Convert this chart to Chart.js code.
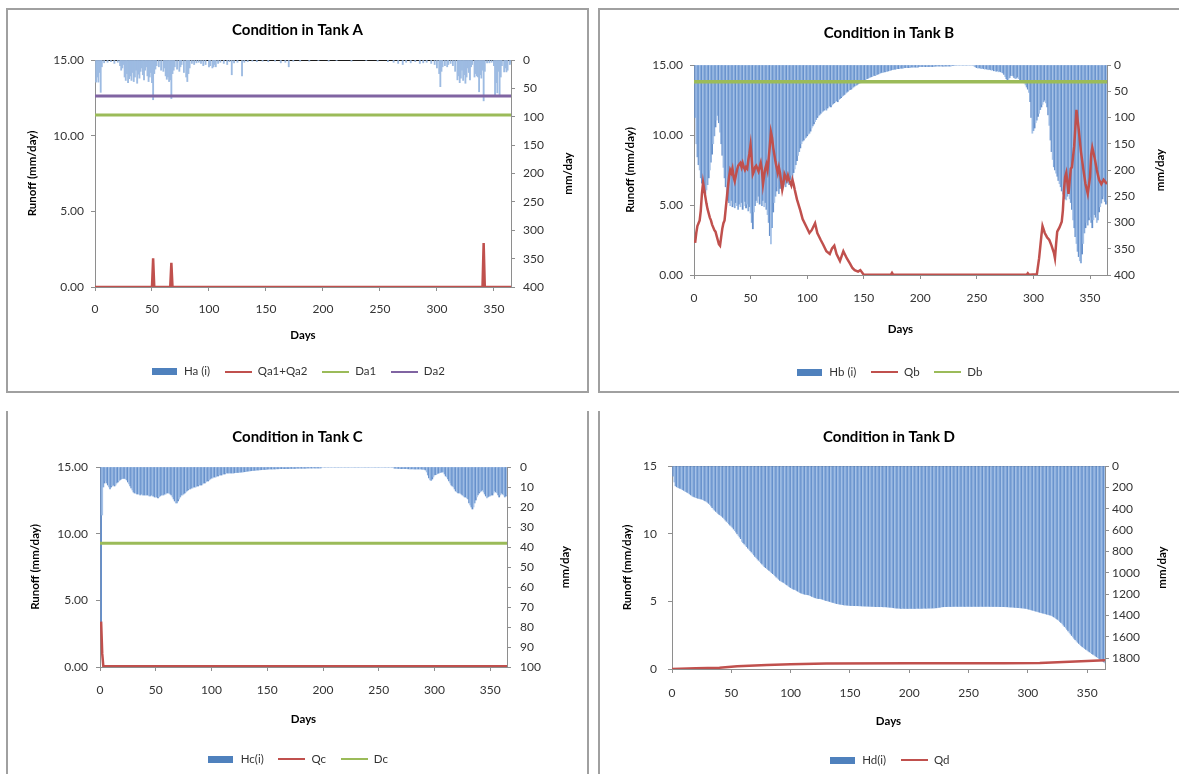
<!DOCTYPE html>
<html>
<head>
<meta charset="utf-8">
<script src="https://cdn.jsdelivr.net/npm/chart.js@4.4.1/dist/chart.umd.min.js"></script>
<style>
  html, body { margin: 0; padding: 0; background: #fff; width: 1179px; height: 774px; overflow: hidden; }
  .frame { position: absolute; box-sizing: border-box; border: 2px solid #a0a0a0; }
  canvas { position: absolute; }
</style>
</head>
<body>
<div class="frame" style="left:6px;top:8px;width:583px;height:385px"></div>
<div class="frame" style="left:598px;top:8px;width:600px;height:385px"></div>
<div class="frame" style="left:6px;top:411px;width:583px;height:400px;border-top:none"></div>
<div class="frame" style="left:598px;top:411px;width:600px;height:400px;border-top:none"></div>

<canvas id="tankA" width="579" height="381" style="left:8px;top:10px"></canvas>
<canvas id="tankB" width="578" height="381" style="left:600px;top:10px"></canvas>
<canvas id="tankC" width="579" height="364" style="left:8px;top:413px"></canvas>
<canvas id="tankD" width="578" height="364" style="left:600px;top:413px"></canvas>

<script>
// ── Data ──────────────────────────────────────────────────────────
// day index for the daily series
const days = Array.from({ length: 365 }, (_, i) => i + 1);

// Tank A: rainfall bars (mm/day, right axis) only on wet days
const haDays = [1, 2, 3, 4, 5, 6, 8, 11, 14, 17, 20, 22, 23, 24, 25, 26, 27, 28, 29, 30,
  31, 32, 33, 34, 35, 36, 37, 38, 39, 40, 41, 42, 43, 44, 45, 46, 47, 48, 49, 50,
  51, 52, 53, 54, 56, 58, 60, 61, 62, 63, 64, 65, 66, 67, 68, 69, 70, 72, 74, 75,
  76, 78, 80, 81, 82, 83, 85, 87, 89, 91, 93, 95, 97, 100, 101, 103, 104, 105, 106, 108,
  110, 113, 116, 118, 120, 122, 125, 129, 131, 134, 138, 142, 147, 152, 158, 163, 167, 170, 174, 180,
  188, 196, 205, 212, 225, 238, 248, 257, 262, 266, 270, 273, 277, 281, 285, 288, 291, 295, 298, 300,
  302, 303, 304, 305, 307, 309, 310, 312, 314, 316, 318, 319, 320, 321, 322, 323, 324, 325, 326, 327,
  328, 329, 330, 331, 333, 334, 335, 336, 337, 338, 339, 340, 341, 342, 344, 346, 348, 350, 351, 352,
  353, 354, 355, 356, 357, 359, 360, 361, 362, 364, 365];
const haVals = [39, 30, 39, 22, 57, 12, 5, 4, 3, 6, 4, 10, 18, 14, 8, 30, 36, 24, 40, 33,
  28, 36, 22, 38, 30, 18, 41, 25, 32, 20, 14, 26, 35, 18, 12, 28, 38, 30, 22, 40,
  70, 24, 16, 10, 12, 18, 20, 14, 28, 34, 30, 38, 35, 68, 24, 18, 12, 16, 20, 12,
  8, 22, 30, 38, 24, 14, 6, 8, 5, 4, 6, 10, 8, 12, 10, 14, 12, 8, 12, 6,
  4, 6, 8, 3, 26, 5, 4, 28, 4, 3, 2, 3, 2, 3, 2, 5, 4, 12, 2, 2,
  2, 1, 2, 1, 2, 1, 2, 3, 4, 6, 8, 4, 5, 3, 6, 5, 4, 6, 8, 14,
  24, 47, 20, 12, 10, 12, 8, 6, 10, 20, 35, 28, 40, 32, 18, 36, 26, 41, 30, 14,
  22, 35, 12, 8, 30, 24, 28, 30, 56, 26, 32, 18, 72, 20, 5, 5, 4, 10, 62, 40,
  58, 20, 62, 30, 10, 21, 14, 21, 18, 8, 6];
const qaDays = [0, 50, 51, 52, 66, 67, 68, 340, 341, 342, 365];
const qaVals = [0, 0, 1.9, 0, 0, 1.6, 0, 0, 2.9, 0, 0];
const da1Level = 11.37;
const da2Level = 12.62;

// Tank B
const hbVals = [
  100, 150, 175, 190, 200, 215, 225, 232, 240, 245,
  238, 228, 215, 200, 185, 170, 150, 135, 118, 105,
  96, 110, 128, 150, 172, 195, 215, 232, 248, 258,
  262, 268, 258, 270, 265, 272, 262, 268, 275, 265,
  270, 262, 275, 268, 260, 272, 265, 278, 270, 282,
  300, 312, 280, 268, 258, 262, 250, 265, 255, 268,
  258, 270, 262, 275, 285, 300, 325, 341, 310, 280,
  262, 250, 240, 232, 245, 235, 225, 238, 228, 220,
  232, 225, 215, 228, 218, 210, 220, 205, 198, 190,
  182, 172, 165, 158, 150, 145, 143, 140, 138, 135,
  132, 130, 126, 120, 116, 112, 108, 104, 100, 97,
  95, 92, 90, 88, 86, 84, 86, 82, 80, 78,
  80, 76, 74, 72, 70, 68, 70, 66, 64, 62,
  60, 58, 56, 54, 52, 50, 48, 47, 46, 44,
  42, 40, 39, 38, 36, 35, 34, 32, 30, 29,
  28, 27, 26, 25, 24, 23, 22, 21, 20, 20,
  19, 18, 17, 16, 15, 14, 14, 13, 13, 12,
  12, 11, 10, 10, 9, 9, 8, 8, 7, 7,
  7, 6, 6, 6, 6, 5, 5, 5, 5, 5,
  5, 4, 4, 4, 4, 4, 4, 4, 3, 3,
  3, 3, 3, 3, 3, 3, 3, 3, 3, 3,
  3, 3, 2, 2, 2, 2, 2, 2, 2, 2,
  2, 2, 2, 2, 2, 2, 2, 1, 1, 1,
  0, 0, 0, 0, 0, 0, 0, 0, 0, 0,
  0, 0, 0, 0, 0, 0, 0, 3, 4, 5,
  6, 5, 6, 7, 6, 7, 8, 7, 8, 9,
  8, 9, 10, 9, 11, 10, 12, 11, 13, 12,
  13, 14, 15, 18, 22, 26, 29, 27, 24, 20,
  19, 21, 24, 26, 25, 23, 26, 28, 29, 30,
  32, 34, 38, 42, 46, 52, 70, 100, 130, 125,
  120, 110, 105, 98, 92, 85, 80, 75, 70, 67,
  72, 80, 95, 115, 143, 165, 180, 194, 200, 206,
  212, 220, 226, 232, 240, 246, 250, 255, 257, 250,
  245, 255, 262, 275, 295, 310, 327, 340, 355, 365,
  373, 377, 360, 340, 320, 310, 300, 305, 295, 290,
  300, 310, 295, 285, 290, 300, 295, 280, 270, 263,
  255, 250, 260, 265, 258];
const qbDays = [1, 2, 3, 4, 5, 6, 7, 8, 9, 10, 11, 12, 13, 14, 15, 16, 17, 18, 19, 20,
  21, 22, 23, 24, 25, 26, 27, 28, 29, 30, 31, 32, 33, 34, 35, 36, 37, 38, 39, 40,
  41, 42, 43, 44, 45, 46, 47, 48, 49, 50, 51, 52, 53, 54, 55, 56, 57, 58, 59, 60,
  61, 62, 63, 64, 65, 66, 67, 68, 69, 70, 71, 72, 73, 74, 75, 76, 77, 78, 79, 80,
  81, 82, 83, 84, 85, 86, 87, 88, 89, 91, 94, 96, 99, 102, 104, 107, 109, 112, 114, 117,
  120, 122, 124, 126, 129, 132, 135, 138, 140, 142, 145, 147, 150, 174, 175, 176, 294, 295, 296, 303,
  305, 307, 308, 310, 312, 314, 316, 318, 319, 320, 321, 323, 325, 326, 327, 328, 329, 330, 331, 332,
  333, 334, 336, 338, 340, 342, 344, 346, 348, 350, 351, 352, 354, 356, 358, 360, 362, 364, 365];
const qbVals = [2.3, 3.0, 3.5, 3.7, 3.9, 4.6, 5.8, 6.6, 6.1, 5.6, 5.1, 4.7, 4.4, 4.1, 3.9, 3.6, 3.4, 3.2, 3.1, 2.8,
  2.5, 2.2, 2.1, 2.7, 3.3, 3.7, 3.9, 4.7, 5.5, 6.3, 7.0, 7.5, 7.3, 7.6, 7.0, 6.7, 7.1, 7.5, 7.8, 7.9,
  8.0, 7.7, 8.0, 7.7, 7.5, 7.7, 7.6, 8.2, 8.7, 9.3, 8.3, 7.2, 7.4, 7.7, 7.8, 7.6, 7.4, 7.7, 8.0, 7.5,
  6.5, 7.1, 7.6, 7.9, 7.5, 8.3, 9.2, 10.2, 9.8, 9.1, 8.6, 8.1, 7.7, 7.3, 7.7, 7.3, 6.7, 6.1, 6.5, 7.2,
  7.0, 6.8, 7.1, 6.8, 6.6, 6.4, 6.8, 6.5, 6.1, 5.4, 4.6, 4.0, 3.5, 3.0, 3.2, 3.7, 3.0, 2.5, 2.2, 1.7,
  1.5, 1.9, 2.1, 1.5, 1.0, 1.7, 1.2, 0.8, 0.5, 0.35, 0.24, 0.35, 0.02, 0.02, 0.15, 0.02, 0.02, 0.12, 0.02, 0.05,
  1.2, 2.8, 3.5, 3.0, 2.7, 2.5, 2.1, 1.6, 1.2, 2.2, 3.1, 3.4, 3.8, 4.6, 6.1, 7.0, 7.3, 6.6, 5.8, 6.7,
  7.6, 7.7, 9.2, 11.8, 10.4, 8.8, 7.6, 6.5, 5.8, 7.0, 8.6, 9.1, 8.4, 7.5, 6.8, 6.5, 6.8, 6.6, 6.5];
const dbLevel = 13.8;

// Tank C
const hcVals = [
  82, 24, 10, 8, 7, 8, 9, 10, 11, 10,
  9.5, 9, 9.5, 9, 8, 7.5, 7, 6.5, 6, 5.8,
  5.7, 5.7, 6, 6.5, 7.5, 8.5, 9.5, 10.5, 11.5, 12.5,
  13, 13, 13.5, 13.5, 13.5, 14, 13.5, 14, 14, 14,
  14, 14, 14, 14.5, 14.5, 14, 14.5, 14.5, 15, 15,
  15, 15.5, 15, 14.5, 14, 14, 14, 13.5, 13.5, 13,
  13, 13, 13.5, 14, 15, 16, 17, 18, 18, 17,
  16, 15, 14, 14, 13.5, 13, 12.5, 12, 11.5, 11,
  11, 10.5, 10.5, 10, 10, 10, 9.5, 9.5, 9, 9,
  9, 8.5, 8, 8, 7.5, 7, 7, 6.5, 6, 5.5,
  5.5, 5, 5, 5, 4.5, 4.5, 4, 4, 4, 3.5,
  3.5, 3.5, 3, 3, 3, 3, 3, 3, 3, 3,
  2.8, 2.8, 2.7, 2.7, 2.6, 2.6, 2.5, 2.5, 2.4, 2.3,
  2.2, 2.1, 2, 2, 1.9, 1.8, 1.8, 1.7, 1.6, 1.6,
  1.5, 1.5, 1.4, 1.4, 1.3, 1.3, 1.2, 1.2, 1.2, 1.1,
  1, 1, 1, 1, 1, 1, 1, 0.9, 0.9, 0.9,
  0.8, 0.8, 0.8, 0.8, 0.8, 0.8, 0.8, 0.8, 0.8, 0.8,
  0.7, 0.7, 0.7, 0.7, 0.7, 0.6, 0.6, 0.6, 0.6, 0.6,
  0.6, 0.6, 0.6, 0.6, 0.6, 0.5, 0.5, 0.5, 0.5, 0.5,
  0.5, 0.5, 0.5, 0.5, 0.5, 0.5, 0.5, 0.5, 0, 0,
  0, 0, 0, 0, 0, 0, 0, 0, 0, 0,
  0, 0, 0, 0, 0, 0, 0, 0, 0, 0,
  0, 0, 0, 0, 0, 0, 0, 0, 0, 0,
  0, 0, 0, 0, 0, 0, 0, 0, 0, 0,
  0, 0, 0, 0, 0, 0, 0, 0, 0, 0,
  0, 0, 0, 0, 0, 0, 0, 0, 0, 0,
  0, 0, 0, 0.6, 0.6, 0.7, 0.7, 0.7, 0.8, 0.8,
  0.8, 0.8, 0.8, 0.8, 0.8, 0.9, 0.9, 0.9, 0.9, 0.9,
  1, 1, 1, 1, 1, 1, 1, 1, 1.1, 1.1,
  1.2, 1.5, 2.5, 4, 5.5, 6.5, 6.7, 6, 5, 4,
  3.8, 3.5, 3.2, 3, 2.8, 2.6, 2.5, 2.5, 3.5, 4.5,
  5, 6, 7, 8, 9, 9.5, 10, 11, 12, 12.5,
  13, 13, 13, 13.5, 14, 14.5, 15, 15, 15.5, 16,
  18, 19, 20, 21, 20, 18, 16.5, 15, 14, 13,
  12.5, 12, 11.5, 12.5, 13.5, 14.5, 15.5, 15, 14.5, 14.5,
  14, 14, 13, 12, 12.5, 13, 14, 15, 14, 13,
  13.5, 14, 15, 14.5, 14];
const qcDays = [1, 2, 3, 365];
const qcVals = [3.4, 1.0, 0.05, 0.05];
const dcLevel = 9.28;

// Tank D
const hdVals = [
  95, 150, 185, 195, 200, 205, 210, 215, 222, 228,
  235, 240, 248, 255, 262, 270, 280, 285, 290, 295,
  298, 302, 305, 308, 310, 315, 320, 326, 332, 340,
  350, 362, 375, 390, 404, 414, 425, 435, 445, 455,
  463, 470, 482, 494, 506, 518, 530, 542, 554, 564,
  574, 590, 605, 620, 635, 650, 665, 680, 705, 718,
  730, 742, 755, 768, 780, 792, 805, 818, 832, 846,
  858, 870, 882, 894, 906, 918, 930, 942, 952, 960,
  969, 978, 988, 998, 1008, 1018, 1028, 1040, 1050, 1060,
  1070, 1078, 1084, 1090, 1098, 1106, 1114, 1122, 1130, 1138,
  1145, 1150, 1155, 1158, 1165, 1172, 1178, 1184, 1190, 1194,
  1198, 1200, 1202, 1204, 1206, 1210, 1215, 1220, 1225, 1230,
  1234, 1238, 1240, 1241, 1242, 1244, 1248, 1252, 1256, 1260,
  1262, 1265, 1268, 1272, 1275, 1278, 1282, 1285, 1288, 1290,
  1292, 1294, 1296, 1298, 1300, 1301, 1302, 1303, 1304, 1305,
  1306, 1306, 1307, 1307, 1308, 1308, 1308, 1309, 1309, 1310,
  1310, 1311, 1311, 1312, 1312, 1313, 1313, 1314, 1314, 1315,
  1315, 1316, 1316, 1316, 1317, 1317, 1317, 1318, 1318, 1318,
  1319, 1320, 1321, 1322, 1323, 1325, 1327, 1329, 1330, 1330,
  1331, 1331, 1332, 1332, 1332, 1333, 1333, 1333, 1333, 1333,
  1333, 1333, 1333, 1333, 1333, 1332, 1332, 1332, 1332, 1332,
  1332, 1331, 1331, 1331, 1331, 1330, 1330, 1330, 1330, 1329,
  1329, 1328, 1327, 1325, 1323, 1321, 1319, 1318, 1317, 1316,
  1316, 1315, 1315, 1315, 1315, 1314, 1314, 1314, 1314, 1314,
  1314, 1314, 1314, 1314, 1314, 1314, 1314, 1314, 1314, 1314,
  1314, 1314, 1314, 1314, 1314, 1314, 1314, 1314, 1314, 1314,
  1314, 1314, 1314, 1314, 1314, 1314, 1314, 1314, 1314, 1315,
  1315, 1315, 1315, 1315, 1316, 1316, 1316, 1316, 1317, 1317,
  1317, 1318, 1318, 1319, 1320, 1320, 1321, 1322, 1323, 1324,
  1325, 1326, 1327, 1328, 1329, 1330, 1331, 1333, 1335, 1338,
  1341, 1344, 1347, 1350, 1353, 1356, 1359, 1362, 1366, 1369,
  1372, 1375, 1378, 1381, 1384, 1387, 1390, 1393, 1396, 1400,
  1406, 1412, 1420, 1428, 1436, 1445, 1455, 1465, 1477, 1490,
  1503, 1516, 1530, 1544, 1558, 1572, 1586, 1600, 1613, 1626,
  1638, 1650, 1661, 1672, 1682, 1692, 1700, 1708, 1716, 1724,
  1732, 1740, 1748, 1756, 1763, 1770, 1778, 1786, 1794, 1802,
  1810, 1818, 1826, 1834, 1842];
const qdDays = [0, 20, 40, 55, 80, 100, 130, 200, 280, 310, 340, 365];
const qdVals = [0, 0.05, 0.1, 0.2, 0.3, 0.35, 0.4, 0.42, 0.42, 0.45, 0.55, 0.65];

// ── Styling helpers ────────────────────────────────────────────────
const FONT   = "Lato, 'Open Sans', Arial, sans-serif";
const RED    = "#c0504d";
const GREEN  = "#9bbb59";
const PURPLE = "#8064a2";
const BLUE   = "#4f81bd";
const AXIS   = "#8e8e8e";
const TXT    = "#333333";

const swatch = (color, w, h) => {
  const c = document.createElement("canvas");
  c.width = w; c.height = h;
  const g = c.getContext("2d");
  g.fillStyle = color;
  g.fillRect(0, 0, w, h);
  return c;
};
const barIcon = swatch(BLUE, 25, 7);
const lineIcon = (color) => swatch(color, 27, 2);

const pts = (xs, ys) => xs.map((x, i) => ({ x, y: ys[i] }));
const flat = (v, xMax) => [{ x: 0, y: v }, { x: xMax, y: v }];
const stripe = (ctx) => ["#6690cb", "#a6c2e7", "#84a9da"][ctx.dataIndex % 3];

// right-hand axis title, rotated like the left one
const rightTitle = {
  id: "rightTitle",
  afterDraw(chart, _args, o) {
    const { ctx, chartArea } = chart;
    ctx.save();
    ctx.translate(chartArea.right + o.offset, (chartArea.top + chartArea.bottom) / 2);
    ctx.rotate(-Math.PI / 2);
    ctx.font = "bold 11.5px " + FONT;
    ctx.fillStyle = "#000";
    ctx.textAlign = "center";
    ctx.textBaseline = "middle";
    ctx.fillText(o.text, 0, 0);
    ctx.restore();
  },
};

function panel(id, L, datasets, icons) {
  const tickFont = { family: FONT, size: 12 };
  const boldFont = { family: FONT, size: 11.5, weight: "bold" };
  new Chart(document.getElementById(id), {
    type: "bar",
    data: { datasets },
    options: {
      responsive: false,
      animation: false,
      events: [],
      layout: { padding: { left: 0, right: 0, top: 0, bottom: L.padB } },
      plugins: {
        tooltip: { enabled: false },
        title: {
          display: true,
          text: L.title,
          color: "#000",
          font: { family: FONT, size: 15, weight: "bold" },
          padding: { top: L.tTop, bottom: L.tBot },
        },
        legend: {
          position: "bottom",
          labels: {
            usePointStyle: true,
            pointStyleWidth: 28,
            padding: 14,
            color: TXT,
            font: { family: FONT, size: 11.5 },
            generateLabels: (chart) =>
              chart.data.datasets.map((ds, i) => ({
                text: ds.label,
                pointStyle: icons[i],
                fillStyle: "rgba(0,0,0,0)",
                strokeStyle: "rgba(0,0,0,0)",
                lineWidth: 0,
                hidden: false,
                fontColor: TXT,
                datasetIndex: i,
              })),
          },
        },
        rightTitle: { text: "mm/day", offset: L.rtOff },
      },
      scales: {
        x: {
          type: "linear",
          offset: false,
          min: 0,
          max: L.xMax,
          afterFit: (s) => { s.height = L.xH; },
          border: { display: true, color: AXIS },
          grid: { drawOnChartArea: false, tickLength: 4, color: AXIS, offset: false },
          ticks: { stepSize: 50, includeBounds: false, maxRotation: 0, padding: L.xTickPad, color: TXT, font: tickFont,
                   callback: (v) => String(v) },
          title: { display: true, text: "Days", color: "#000", font: boldFont, padding: { top: 0, bottom: L.xTitlePad } },
        },
        xTop: {
          type: "linear",
          position: "top",
          offset: false,
          min: 0,
          max: L.xMax,
          display: L.topLine,
          afterFit: (s) => { s.height = 0; },
          border: { display: true, color: "#1a1a1a", width: 1 },
          grid: { display: false },
          ticks: { display: false },
        },
        y: {
          position: "left",
          min: 0,
          max: 15,
          afterFit: (s) => { s.width = L.leftW; },
          border: { display: true, color: AXIS },
          grid: { drawOnChartArea: false, tickLength: 4, color: AXIS },
          ticks: { stepSize: 5, padding: L.yTickPad, color: TXT, font: tickFont,
                   callback: (v) => (L.decimals ? v.toFixed(2) : String(v)) },
          title: { display: true, text: "Runoff (mm/day)", color: "#000", font: boldFont, padding: { top: L.yTitlePad, bottom: 0 } },
        },
        y2: {
          position: "right",
          reverse: true,
          min: 0,
          max: L.rMax,
          afterFit: (s) => { s.width = L.rightW; },
          border: { display: true, color: AXIS },
          grid: { drawOnChartArea: false, tickLength: 4, color: AXIS },
          ticks: { stepSize: L.rStep, includeBounds: false, padding: L.rTickPad, color: TXT, font: tickFont,
                   callback: (v) => String(v) },
        },
      },
    },
    plugins: [rightTitle],
  });
}

const barDefaults = {
  type: "bar",
  xAxisID: "x",
  yAxisID: "y2",
  borderWidth: 0,
  barPercentage: 1,
  categoryPercentage: 1,
  grouped: false,
  order: 5,
};
const lineDefaults = {
  type: "line",
  xAxisID: "x",
  yAxisID: "y",
  pointRadius: 0,
  tension: 0,
  fill: false,
};

/* ── Tank A ─────────────────────────────────────────────── */
panel("tankA",
  { title: "Condition in Tank A", tTop: 11, tBot: 21, leftW: 87, rightW: 76, xH: 65, padB: 3.5,
    xTickPad: 10.5, xTitlePad: 10, yTickPad: 7, yTitlePad: 17, rTickPad: 8, rtOff: 57,
    xMax: 365, rMax: 400, rStep: 50, decimals: true, topLine: true },
  [
    { ...barDefaults, label: "Ha (i)", data: pts(haDays, haVals), barThickness: 1.2, backgroundColor: "#9dbbe2" },
    { ...lineDefaults, label: "Qa1+Qa2", data: pts(qaDays, qaVals), borderColor: RED, borderWidth: 2.5, order: 1 },
    { ...lineDefaults, label: "Da1", data: flat(da1Level, 365), borderColor: GREEN, borderWidth: 3, order: 3 },
    { ...lineDefaults, label: "Da2", data: flat(da2Level, 365), borderColor: PURPLE, borderWidth: 3, order: 2 },
  ],
  [barIcon, lineIcon(RED), lineIcon(GREEN), lineIcon(PURPLE)]
);

/* ── Tank B ─────────────────────────────────────────────── */
panel("tankB",
  { title: "Condition in Tank B", tTop: 14, tBot: 23, leftW: 94, rightW: 71, xH: 77.25, padB: 3.25,
    xTickPad: 11.8, xTitlePad: 16.35, yTickPad: 7, yTitlePad: 23, rTickPad: 3, rtOff: 53,
    xMax: 365, rMax: 400, rStep: 50, decimals: true, topLine: false },
  [
    { ...barDefaults, label: "Hb (i)", data: pts(days, hbVals), backgroundColor: stripe },
    { ...lineDefaults, label: "Qb", data: pts(qbDays, qbVals), borderColor: RED, borderWidth: 2.5, order: 1 },
    { ...lineDefaults, label: "Db", data: flat(dbLevel, 365), borderColor: GREEN, borderWidth: 3.5, order: 2 },
  ],
  [barIcon, lineIcon(RED), lineIcon(GREEN)]
);

/* ── Tank C ─────────────────────────────────────────────── */
panel("tankC",
  { title: "Condition in Tank C", tTop: 15, tBot: 21, leftW: 92, rightW: 80, xH: 72.25, padB: 2.25,
    xTickPad: 11.8, xTitlePad: 13.35, yTickPad: 8, yTitlePad: 20, rTickPad: 9, rtOff: 58,
    xMax: 365, rMax: 100, rStep: 10, decimals: true, topLine: false },
  [
    { ...barDefaults, label: "Hc(i)", data: pts(days, hcVals), backgroundColor: stripe },
    { ...lineDefaults, label: "Qc", data: pts(qcDays, qcVals), borderColor: RED, borderWidth: 2.5, order: 1 },
    { ...lineDefaults, label: "Dc", data: flat(dcLevel, 365), borderColor: GREEN, borderWidth: 3, order: 2 },
  ],
  [barIcon, lineIcon(RED), lineIcon(GREEN)]
);

/* ── Tank D ─────────────────────────────────────────────── */
panel("tankD",
  { title: "Condition in Tank D", tTop: 15, tBot: 20, leftW: 72, rightW: 73, xH: 71.25, padB: 1.25,
    xTickPad: 12.8, xTitlePad: 12.35, yTickPad: 11, yTitlePad: 20, rTickPad: 3, rtOff: 57,
    xMax: 365, rMax: 1900, rStep: 200, decimals: false, topLine: true },
  [
    { ...barDefaults, label: "Hd(i)", data: pts(days, hdVals), backgroundColor: stripe },
    { ...lineDefaults, label: "Qd", data: pts(qdDays, qdVals), borderColor: RED, borderWidth: 2.5, order: 1 },
  ],
  [barIcon, lineIcon(RED)]
);
</script>
</body>
</html>
